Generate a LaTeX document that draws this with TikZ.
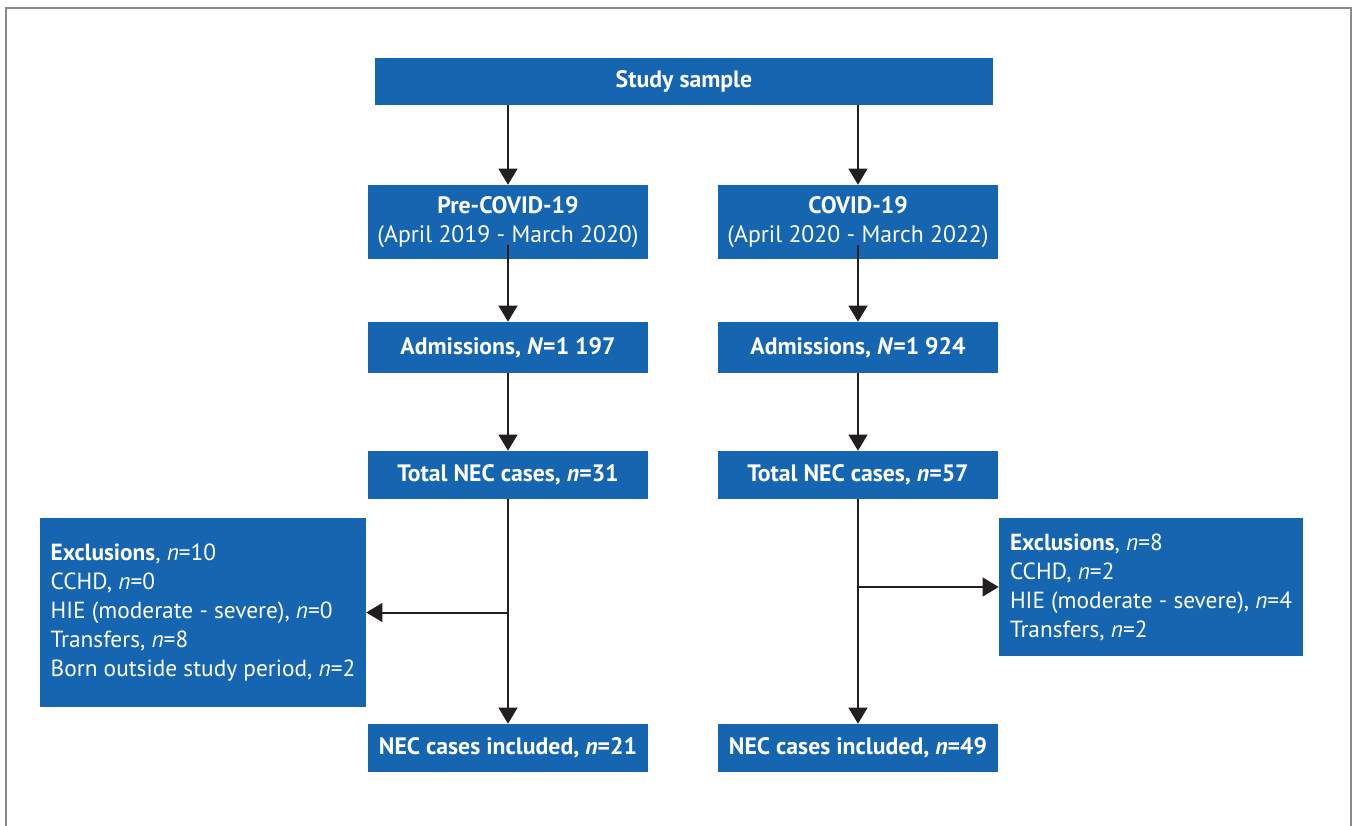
\documentclass[tikz,border=0pt]{standalone}
\usepackage{fontspec}
\setmainfont{PT Sans}
\usetikzlibrary{arrows.meta}

\definecolor{boxblue}{RGB}{21,101,176}
\definecolor{arrowdark}{RGB}{35,31,32}
\definecolor{framegray}{RGB}{138,138,138}

\tikzset{
  flowbox/.style={fill=boxblue, text=white, font=\fontsize{17.8}{21.75}\selectfont\bfseries,
    align=center, inner sep=0pt, minimum width=210pt},
  exclbox/.style={fill=boxblue, text=white, font=\fontsize{17.5}{21.75}\selectfont,
    align=left, inner sep=0pt},
  flowarrow/.style={draw=arrowdark, line width=1.5pt, -{Triangle[length=12pt,width=14pt]}},
}

\begin{document}
\begin{tikzpicture}[x=0.75pt, y=-0.75pt]
            \useasboundingbox (0, 0) rectangle (1357, 825);
            %\draw[lightgray] (0, 0) grid[step=100] (1357, 825);
            \draw[framegray, line width=1.5pt] (5.5, 840) -- (5.5, 7.5) -- (1350.5, 7.5) -- (1350.5, 840);

            \node[flowbox, minimum width=463.5pt, minimum height=35.25pt] (sample) at (684, 81.5) {Study sample};

            \node[flowbox, minimum height=55.5pt] (pre) at (508, 222) {Pre-COVID-19\\\mdseries(April 2019 - March 2020)};
            \node[flowbox, minimum height=55.5pt] (cov) at (858, 222) {COVID-19\\\mdseries(April 2020 - March 2022)};

            \node[flowbox, minimum height=38.25pt] (adm1) at (508, 347.5) {Admissions, \textit{N}=1 197};
            \node[flowbox, minimum height=38.25pt] (adm2) at (858, 347.5) {Admissions, \textit{N}=1 924};

            \node[flowbox, minimum height=36pt] (nec1) at (508, 475) {Total NEC cases, \textit{n}=31};
            \node[flowbox, minimum height=36pt] (nec2) at (858, 475) {Total NEC cases, \textit{n}=57};

            \node[exclbox, minimum width=244.5pt, minimum height=141.75pt] (excl1) at (203, 612.5)
                {\textbf{Exclusions}, \textit{n}=10\\CCHD, \textit{n}=0\\HIE (moderate - severe), \textit{n}=0\\Transfers, \textit{n}=8\\Born outside study period, \textit{n}=2};
            \node[exclbox, minimum width=228pt, minimum height=103.5pt] (excl2) at (1151, 587)
                {\textbf{Exclusions}, \textit{n}=8\\CCHD, \textit{n}=2\\HIE (moderate - severe), \textit{n}=4\\Transfers, \textit{n}=2};

            \node[flowbox, minimum height=36pt] (inc1) at (508, 748) {NEC cases included, \textit{n}=21};
            \node[flowbox, minimum height=36pt] (inc2) at (858, 748) {NEC cases included, \textit{n}=49};

            \draw[flowarrow] (pre.north |- sample.south) -- (pre.north);
            \draw[flowarrow] (cov.north |- sample.south) -- (cov.north);

            \draw[flowarrow] ([yshift=11pt]pre.south) -- (adm1.north);
            \draw[flowarrow] ([yshift=11pt]cov.south) -- (adm2.north);

            \draw[flowarrow] (adm1) -- (nec1);
            \draw[flowarrow] (adm2) -- (nec2);

            \draw[flowarrow] (nec1) -- (inc1);
            \draw[flowarrow] (nec2) -- (inc2);

            \draw[flowarrow] (nec1.south |- excl1.east) -- (excl1.east);
            \draw[flowarrow] (nec2.south |- excl2.west) -- (excl2.west);
        \end{tikzpicture}
\end{document}
